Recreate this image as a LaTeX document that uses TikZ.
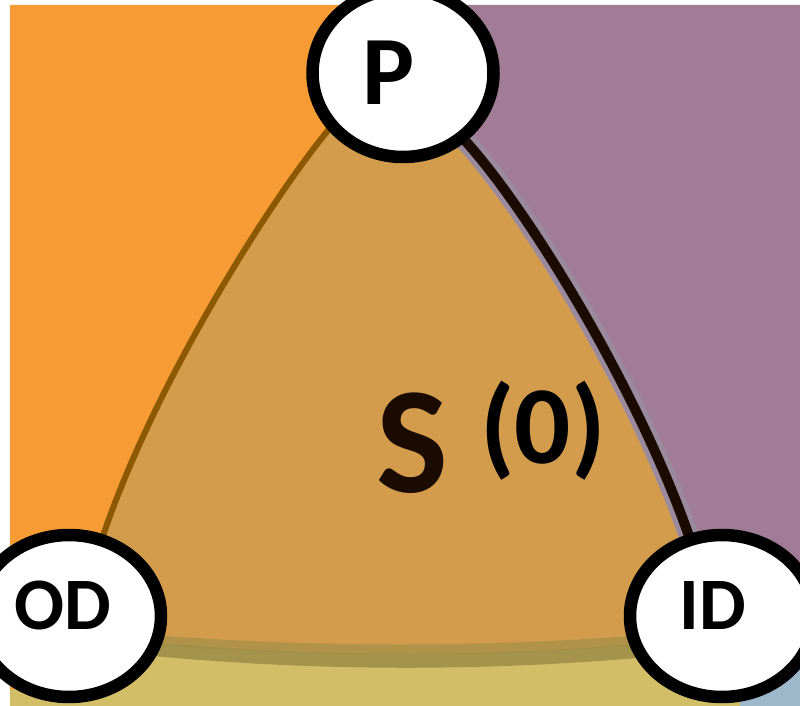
\documentclass[tikz,border=0pt]{standalone}
\usepackage{fontspec}
\setmainfont{Carlito}
\usetikzlibrary{shapes.geometric}
\definecolor{bgorange}{HTML}{F79C34}
\definecolor{bgpurple}{HTML}{A07C96}
\definecolor{trifill}{HTML}{D39C4C}
\definecolor{bgyellow}{HTML}{D3BE68}
\definecolor{shadowc}{HTML}{A18F48}
\definecolor{bgblue}{HTML}{9DB8CB}
\definecolor{leftedge}{HTML}{8C5800}
\definecolor{halo}{HTML}{9A8A9E}
\definecolor{textdark}{HTML}{1A0A00}
\tikzset{
  ring/.style={ellipse, draw=black, line width=12.5pt, fill=white, inner sep=0pt},
  lbl/.style={anchor=base, inner sep=0pt, text=black, font=\bfseries}
}
\begin{document}
\begin{tikzpicture}[x=1pt,y=-1pt]
\useasboundingbox (0,0) rectangle (800,706);
\fill[white] (0,0) rectangle (800,706);
\begin{scope}
\clip (0,0) rectangle (800,706);
% backgrounds
\fill[bgyellow] (10,5) rectangle (800,706);
\fill[bgorange] (10,5) -- (402,5) -- (402,128) -- (330,128)
  .. controls (270,200) and (150,390) .. (100,545) -- (100,660) -- (10,690) -- cycle;
\fill[bgpurple] (402,5) -- (800,5) -- (800,640) -- (692,640) -- (692,545)
  .. controls (640,390) and (520,195) .. (455,130) -- (402,128) -- cycle;
\fill[bgblue] (740,640) -- (800,600) -- (800,706) -- (740,706) -- cycle;
% triangle
\fill[trifill] (330,128) .. controls (270,200) and (150,390) .. (100,545)
  -- (100,640) .. controls (300,656) and (500,656) .. (692,640)
  -- (692,545) .. controls (640,390) and (520,195) .. (455,130) -- cycle;
\draw[shadowc!70!trifill, line width=10pt] (105,636) .. controls (300,654) and (500,654) .. (690,636);
\draw[shadowc, line width=14pt, opacity=0.9] (105,644) .. controls (300,666) and (500,666) .. (690,646);
% edges
\draw[leftedge, line width=6pt] (330,128) .. controls (270,200) and (150,390) .. (100,545);
\draw[halo, line width=20pt] (455,130) .. controls (520,195) and (640,390) .. (692,545);
\draw[textdark, line width=10pt] (455,130) .. controls (520,195) and (640,390) .. (692,545);
% centre label
\node[lbl, text=textdark, font=\bfseries\fontsize{152}{152}\selectfont] (s) at (412,492) {S};
\node[lbl, font=\bfseries\fontsize{111}{111}\selectfont] (zero) at (543,463) {(0)};
% vertices
\node[ring, minimum width=181pt, minimum height=168pt] (P) at (403,73) {};
\node[ring, minimum width=184pt, minimum height=162pt] (OD) at (69,616) {};
\node[ring, minimum width=184pt, minimum height=162pt] (ID) at (722,616) {};
\node[lbl, font=\bfseries\fontsize{98}{98}\selectfont] (Pl) at (389,105) {P};
\node[lbl, font=\bfseries\fontsize{74}{74}\selectfont] (ODl) at (63,629) {OD};
\node[lbl, font=\bfseries\fontsize{74}{74}\selectfont] (IDl) at (713,629) {ID};
\end{scope}
\end{tikzpicture}
\end{document}
